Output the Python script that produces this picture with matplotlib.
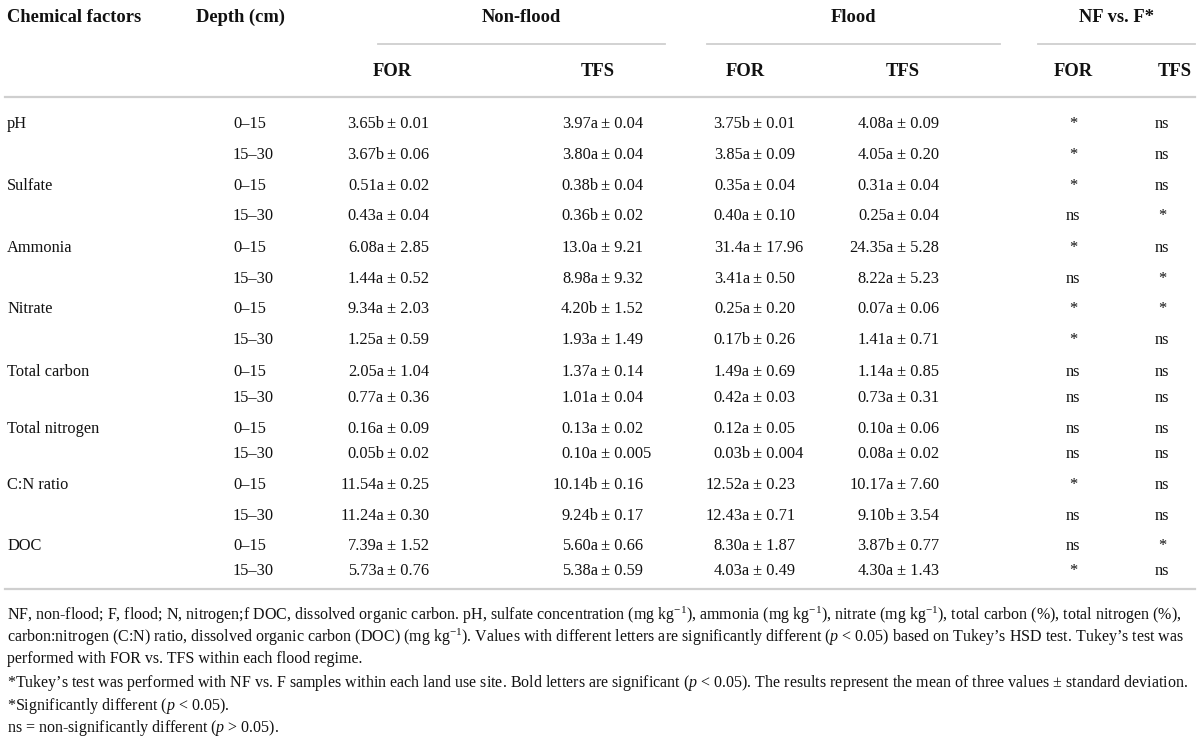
import matplotlib
matplotlib.use("Agg")
import matplotlib.pyplot as plt

#-----------------------
# Table data
#-----------------------
factors = ["pH", "Sulfate", "Ammonia", "Nitrate", "Total carbon",
           "Total nitrogen", "C:N ratio", "DOC"]
depths = ["0–15", "15–30"]

nf_for = ["3.65b ± 0.01", "3.67b ± 0.06", "0.51a ± 0.02", "0.43a ± 0.04",
          "6.08a ± 2.85", "1.44a ± 0.52", "9.34a ± 2.03", "1.25a ± 0.59",
          "2.05a ± 1.04", "0.77a ± 0.36", "0.16a ± 0.09", "0.05b ± 0.02",
          "11.54a ± 0.25", "11.24a ± 0.30", "7.39a ± 1.52", "5.73a ± 0.76"]
nf_tfs = ["3.97a ± 0.04", "3.80a ± 0.04", "0.38b ± 0.04", "0.36b ± 0.02",
          "13.0a ± 9.21", "8.98a ± 9.32", "4.20b ± 1.52", "1.93a ± 1.49",
          "1.37a ± 0.14", "1.01a ± 0.04", "0.13a ± 0.02", "0.10a ± 0.005",
          "10.14b ± 0.16", "9.24b ± 0.17", "5.60a ± 0.66", "5.38a ± 0.59"]
f_for = ["3.75b ± 0.01", "3.85a ± 0.09", "0.35a ± 0.04", "0.40a ± 0.10",
         "31.4a ± 17.96", "3.41a ± 0.50", "0.25a ± 0.20", "0.17b ± 0.26",
         "1.49a ± 0.69", "0.42a ± 0.03", "0.12a ± 0.05", "0.03b ± 0.004",
         "12.52a ± 0.23", "12.43a ± 0.71", "8.30a ± 1.87", "4.03a ± 0.49"]
f_tfs = ["4.08a ± 0.09", "4.05a ± 0.20", "0.31a ± 0.04", "0.25a ± 0.04",
         "24.35a ± 5.28", "8.22a ± 5.23", "0.07a ± 0.06", "1.41a ± 0.71",
         "1.14a ± 0.85", "0.73a ± 0.31", "0.10a ± 0.06", "0.08a ± 0.02",
         "10.17a ± 7.60", "9.10b ± 3.54", "3.87b ± 0.77", "4.30a ± 1.43"]
sig_for = ["*", "*", "*", "ns", "*", "ns", "*", "*",
           "ns", "ns", "ns", "ns", "*", "ns", "ns", "*"]
sig_tfs = ["ns", "ns", "ns", "*", "ns", "*", "*", "ns",
           "ns", "ns", "ns", "ns", "ns", "ns", "*", "ns"]

footnotes = [
    "NF, non-flood; F, flood; N, nitrogen;f DOC, dissolved organic carbon. pH, sulfate concentration (mg kg$^{-1}$), "
    "ammonia (mg kg$^{-1}$), nitrate (mg kg$^{-1}$), total carbon (%), total nitrogen (%),",
    "carbon:nitrogen (C:N) ratio, dissolved organic carbon (DOC) (mg kg$^{-1}$). Values with different letters are "
    "significantly different ($p$ < 0.05) based on Tukey’s HSD test. Tukey’s test was",
    "performed with FOR vs. TFS within each flood regime.",
    "*Tukey’s test was performed with NF vs. F samples within each land use site. Bold letters are significant "
    "($p$ < 0.05). The results represent the mean of three values ± standard deviation.",
    "*Significantly different ($p$ < 0.05).",
    "ns = non-significantly different ($p$ > 0.05).",
]

#-----------------------
# Layout (pixel-like units)
#-----------------------
row_y = [124, 155, 186, 216, 248, 279, 309, 340,
         372, 398, 429, 454, 485, 516, 546, 571]
foot_y = [615, 637, 659, 683, 706, 728]
pm_x = [387, 601, 753, 897]       # where the ± sign sits in each value column
sig_x = [1073, 1162]
line_col = "#cfcfcf"
txt_col = "#111111"

plt.rcParams["font.family"] = ["Liberation Serif", "DejaVu Serif"]
plt.rcParams["mathtext.fontset"] = "custom"
plt.rcParams["mathtext.rm"] = "Liberation Serif"
plt.rcParams["mathtext.it"] = "Liberation Serif:italic"
plt.rcParams["mathtext.bf"] = "Liberation Serif:bold"

fig = plt.figure(figsize=(12, 7.42), dpi=100)
ax = fig.add_axes([0, 0, 1, 1])
ax.set_xlim(0, 1200)
ax.set_ylim(742, 0)
ax.axis("off")

fs = 11.8
hfs = 13.3
ffs = 11.5

# header
hy1, hy2 = 17, 71
ax.text(7, hy1, "Chemical factors", fontsize=hfs, weight="bold", va="center", color=txt_col)
ax.text(196, hy1, "Depth (cm)", fontsize=hfs, weight="bold", va="center", color=txt_col)
for label, x0, x1 in [("Non-flood", 378, 665), ("Flood", 707, 1000), ("NF vs. F*", 1038, 1195)]:
    ax.text((x0 + x1) / 2, hy1, label, fontsize=hfs, weight="bold", ha="center", va="center", color=txt_col)
    ax.plot([x0, x1], [44, 44], color=line_col, lw=1.3)
for label, x in zip(["FOR", "TFS", "FOR", "TFS", "FOR", "TFS"], [392, 598, 745, 903, 1073, 1175]):
    ax.text(x, hy2, label, fontsize=hfs, weight="bold", ha="center", va="center", color=txt_col)
ax.plot([5, 1195], [97, 97], color=line_col, lw=1.6)

# body
for i, y in enumerate(row_y):
    if i % 2 == 0:
        ax.text(7, y, factors[i // 2], fontsize=fs, va="center", color=txt_col)
    ax.text(233, y, depths[i % 2], fontsize=fs, va="center", color=txt_col)
    for col, x in zip([nf_for, nf_tfs, f_for, f_tfs], pm_x):
        left, right = col[i].split(" ± ")
        ax.text(x - 3, y, left, fontsize=fs, ha="right", va="center", color=txt_col)
        ax.text(x, y, "± " + right, fontsize=fs, ha="left", va="center", color=txt_col)
    for col, x in zip([sig_for, sig_tfs], sig_x):
        ax.text(x, y, col[i], fontsize=fs, ha="center", va="center", color=txt_col)
ax.plot([5, 1195], [589, 589], color=line_col, lw=1.6)

# footnotes
for y, line in zip(foot_y, footnotes):
    ax.text(7, y, line, fontsize=ffs, va="center", color=txt_col)

fig.savefig("out.png", dpi=100)
